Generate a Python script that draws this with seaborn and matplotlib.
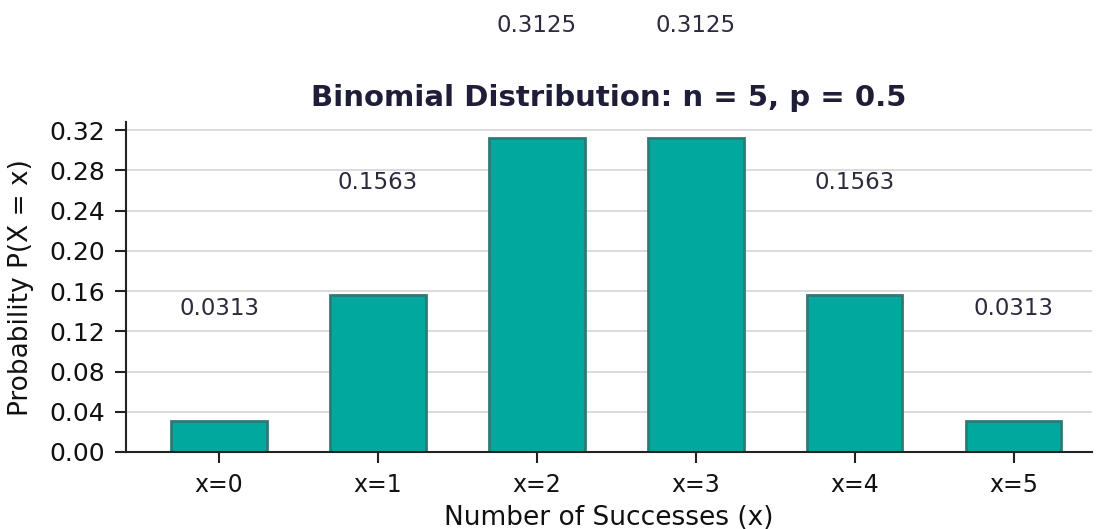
import numpy as np
import pandas as pd
import matplotlib
matplotlib.use("Agg")
import matplotlib.pyplot as plt
import seaborn as sns

# data
outcomes = ["x=0", "x=1", "x=2", "x=3", "x=4", "x=5"]
probs = [0.03125, 0.15625, 0.3125, 0.3125, 0.15625, 0.03125]
prob_labels = ["0.0313", "0.1563", "0.3125", "0.3125", "0.1563", "0.0313"]
yticks = [0.00, 0.04, 0.08, 0.12, 0.16, 0.20, 0.24, 0.28, 0.32]

sns.set_theme(style="whitegrid")
plt.rcParams['font.family'] = ['DejaVu Sans']

df = pd.DataFrame({"outcome": outcomes, "prob": probs})

fig = plt.figure(figsize=(10.96, 5.29), dpi=100)
ax = fig.add_axes([0.115, 0.1456, 0.881, 0.6234])

sns.barplot(data=df, x="outcome", y="prob", color="#00a89d", saturation=1,
            width=0.6, edgecolor="#2e7b75", linewidth=2, ax=ax)

# value labels, well above each bar
for i, (p, lab) in enumerate(zip(probs, prob_labels)):
    ax.text(i, p + 0.1, lab, ha="center", va="bottom",
            fontsize=16.5, color="#2b2b3d", clip_on=False)

ax.set_ylim(0, 0.328)
ax.set_xlim(-0.585, 5.49)
ax.set_yticks(yticks)
ax.set_yticklabels([f"{t:.2f}" for t in yticks])
ax.grid(axis="y", color="#d5d5d5", linewidth=1.2)
ax.grid(axis="x", visible=False)
ax.set_axisbelow(True)
sns.despine(ax=ax)
for s in ["left", "bottom"]:
    ax.spines[s].set_color("#222222")
    ax.spines[s].set_linewidth(1.5)
ax.tick_params(axis="y", which="both", left=True, length=8, width=1.5, pad=7,
               color="#222222", labelsize=18, labelcolor="#111111")
ax.tick_params(axis="x", bottom=True, length=8, width=1.5, pad=7,
               color="#222222", labelsize=17, labelcolor="#111111")

ax.set_xlabel("Number of Successes (x)", fontsize=19, color="#111111", labelpad=6)
ax.set_ylabel("Probability P(X = x)", fontsize=19, color="#111111", labelpad=11)
ax.set_title("Binomial Distribution: n = 5, p = 0.5", fontsize=21,
             fontweight="bold", color="#1e1e38", pad=12)

fig.savefig("out.png", dpi=100)
